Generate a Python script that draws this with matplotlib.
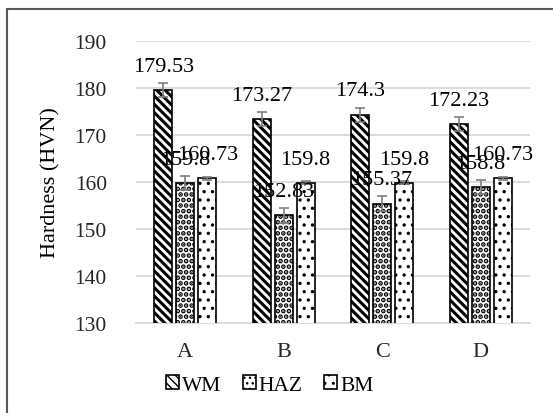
import numpy as np
import matplotlib.pyplot as plt
from matplotlib.patches import Rectangle

plt.rcParams['font.family'] = ['Liberation Serif', 'DejaVu Serif']

groups = ['A', 'B', 'C', 'D']
series = ['WM', 'HAZ', 'BM']
wm = [179.53, 173.27, 174.3, 172.23]
haz = [159.8, 152.83, 155.37, 158.8]
bm = [160.73, 159.8, 159.8, 160.73]
wm_err = [1.5, 1.5, 1.5, 1.5]
haz_err = [1.5, 1.5, 1.5, 1.5]
bm_err = [0.3, 0.3, 0.3, 0.3]

values = [wm, haz, bm]
errors = [wm_err, haz_err, bm_err]
hatches = ['\\' * 4, '...', '..']
hatch_lw = [2.2, 2.4, 1.2]

fig = plt.figure(figsize=(5.53, 4.14), dpi=100)
ax = fig.add_axes([0.246, 0.218, 0.712, 0.681])

# outer chart-area frame (runs off the right / bottom edge)
fig.patches.append(Rectangle((7 / 553, -0.1), 1.2, 1 - 10 / 414 + 0.1,
                             transform=fig.transFigure, fill=False,
                             edgecolor='#595959', linewidth=1.5, zorder=0))

x = np.arange(len(groups))
width = 0.183
step = 0.223
handles = []
for i in range(3):
    pos = x + (i - 1) * step
    b = ax.bar(pos, values[i], width, color='white', edgecolor='black',
               hatch=hatches[i], linewidth=1.2, zorder=3, label=series[i])
    for p in b:
        p.set_hatch_linewidth(hatch_lw[i])
    handles.append(b)
    ax.errorbar(pos, values[i], yerr=errors[i], fmt='none', ecolor='#7f7f7f',
                elinewidth=1.2, capsize=3.6, capthick=1.2, zorder=4)
    for xp, v in zip(pos, values[i]):
        ax.annotate(f'{v:g}', (xp, v), xytext=(0, 17), textcoords='offset points',
                    ha='center', va='center', fontsize=16, zorder=5)

ax.set_xlim(-0.5, 3.5)
ax.set_ylim(130, 190)
ax.set_yticks(range(130, 191, 10))
ax.set_xticks(x)
ax.set_xticklabels(groups)
ax.grid(axis='y', color='#d9d9d9', linewidth=1.3, zorder=0)
ax.set_axisbelow(True)
for s in ['top', 'right', 'left']:
    ax.spines[s].set_visible(False)
ax.spines['bottom'].set_color('#d9d9d9')
ax.spines['bottom'].set_linewidth(1.3)
ax.tick_params(axis='y', length=0, pad=21, labelsize=15.5, labelcolor='#262626')
ax.tick_params(axis='x', length=0, pad=14, labelsize=16, labelcolor='#262626')
ax.set_ylabel('Hardness (HVN)', fontsize=16, labelpad=10)

fig.legend(handles=handles, loc='center', bbox_to_anchor=(0.488, 0.068),
           ncol=3, frameon=False, fontsize=15.5, handlelength=0.6,
           handleheight=0.6, handletextpad=0.15, columnspacing=1.0)

fig.savefig('out.png', dpi=100)
